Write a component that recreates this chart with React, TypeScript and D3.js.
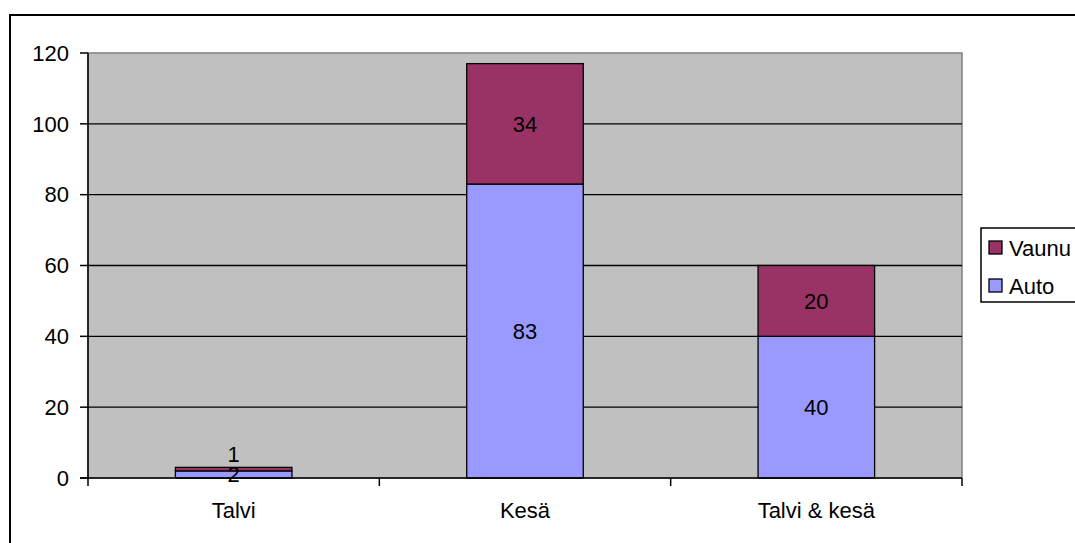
import React from "react";
import * as d3 from "d3";

const categories = ["Talvi", "Kesä", "Talvi & kesä"];
const autoValues = [2, 83, 40];
const vaunuValues = [1, 34, 20];
const seriesNames = ["Auto", "Vaunu"];
const seriesColors = ["#9999FF", "#993366"];
const yTicks = [0, 20, 40, 60, 80, 100, 120];

const W = 1075;
const H = 543;
const plot = { left: 88, top: 53, right: 962, bottom: 478 };
const FONT = "'Liberation Sans', Arial, sans-serif";
const FS = 22;

export default function App() {
  const x = d3
    .scaleBand<string>()
    .domain(categories)
    .range([plot.left, plot.right])
    .paddingInner(0.6)
    .paddingOuter(0.3);
  const y = d3.scaleLinear().domain([0, 120]).range([plot.bottom, plot.top]);

  const rows = categories.map((c, i) => ({ cat: c, Auto: autoValues[i], Vaunu: vaunuValues[i] }));
  const stacked = d3.stack<any>().keys(seriesNames)(rows);

  const step = x.step();
  const boundaries = d3.range(categories.length + 1).map((i) => plot.left + i * step);

  return (
    <svg
      width={W}
      height={H}
      style={{ position: "absolute", left: 0, top: 0, background: "#fff" }}
      fontFamily={FONT}
    >
      {/* chart frame */}
      <rect x={10} y={15} width={W + 20} height={H + 20} fill="#fff" stroke="#000" strokeWidth={2} />

      {/* plot area */}
      <rect
        x={plot.left}
        y={plot.top}
        width={plot.right - plot.left}
        height={plot.bottom - plot.top}
        fill="#C0C0C0"
        stroke="#808080"
        strokeWidth={1.5}
      />

      {/* gridlines */}
      {yTicks
        .filter((t) => t > 0 && t < 120)
        .map((t) => (
          <line key={t} x1={plot.left} x2={plot.right} y1={y(t)} y2={y(t)} stroke="#000" strokeWidth={1.3} />
        ))}

      {/* bars */}
      {stacked.map((layer, si) =>
        layer.map((d, ci) => (
          <rect
            key={`${si}-${ci}`}
            x={x(categories[ci])!}
            y={y(d[1])}
            width={x.bandwidth()}
            height={y(d[0]) - y(d[1])}
            fill={seriesColors[si]}
            stroke="#000"
            strokeWidth={1.3}
          />
        ))
      )}

      {/* value labels */}
      {stacked.map((layer, si) =>
        layer.map((d, ci) => {
          const v = d[1] - d[0];
          const h = y(d[0]) - y(d[1]);
          const cx = x(categories[ci])! + x.bandwidth() / 2;
          let cy = (y(d[0]) + y(d[1])) / 2;
          if (si === stacked.length - 1 && h < 12) cy = y(d[1]) - 13;
          return (
            <text
              key={`l-${si}-${ci}`}
              x={cx}
              y={cy}
              dy="0.35em"
              textAnchor="middle"
              fontSize={FS}
              fill="#000"
            >
              {v}
            </text>
          );
        })
      )}

      {/* axes */}
      <line x1={plot.left} x2={plot.left} y1={plot.top} y2={plot.bottom} stroke="#000" strokeWidth={1.5} />
      <line x1={plot.left - 8} x2={plot.right} y1={plot.bottom} y2={plot.bottom} stroke="#000" strokeWidth={1.5} />
      {yTicks.map((t) => (
        <g key={`yt-${t}`}>
          <line x1={plot.left - 8} x2={plot.left} y1={y(t)} y2={y(t)} stroke="#000" strokeWidth={1.5} />
          <text x={69} y={y(t)} dy="0.35em" textAnchor="end" fontSize={FS} fill="#000">
            {t}
          </text>
        </g>
      ))}
      {boundaries.map((bx, i) => (
        <line key={`xt-${i}`} x1={bx} x2={bx} y1={plot.bottom} y2={plot.bottom + 8} stroke="#000" strokeWidth={1.5} />
      ))}
      {categories.map((c) => (
        <text key={c} x={x(c)! + x.bandwidth() / 2} y={518} textAnchor="middle" fontSize={FS} fill="#000">
          {c}
        </text>
      ))}

      {/* legend */}
      <rect x={981} y={228} width={120} height={74} fill="#fff" stroke="#000" strokeWidth={1.5} />
      {[1, 0].map((si, i) => (
        <g key={`lg-${si}`}>
          <rect x={989} y={241 + i * 38} width={13} height={13} fill={seriesColors[si]} stroke="#000" strokeWidth={1.3} />
          <text x={1009} y={248 + i * 38} dy="0.35em" fontSize={FS} fill="#000">
            {seriesNames[si]}
          </text>
        </g>
      ))}
    </svg>
  );
}
